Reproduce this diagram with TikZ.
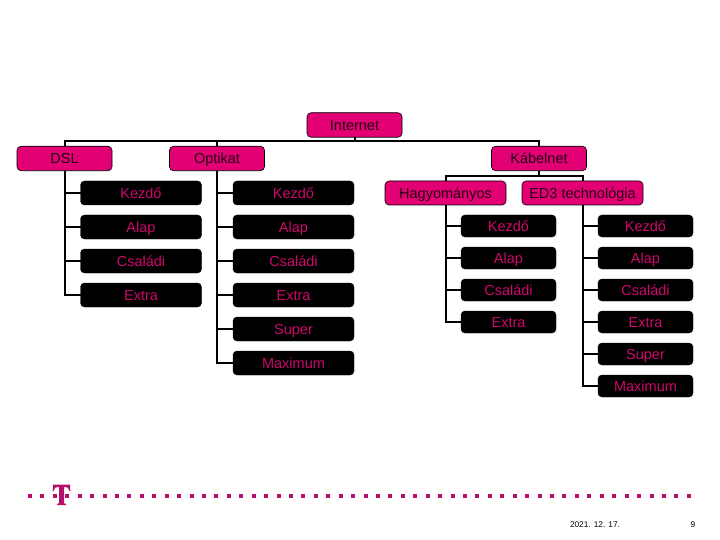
\documentclass[tikz,border=0pt]{standalone}
\usepackage{fontspec}
\setmainfont{Liberation Sans}
\usetikzlibrary{positioning}
\definecolor{tmagenta}{HTML}{E20074}
\definecolor{tfelirat}{HTML}{D0086C}
\definecolor{tsotet}{HTML}{B5106A}

\begin{document}
\begin{tikzpicture}[
  x=1pt, y=1pt,
  node distance=10pt and 10pt,
  fo/.style={draw=black, fill=tmagenta, rounded corners=4pt, line width=0.6pt, text=black!85!tmagenta, inner sep=0pt, outer sep=0pt, minimum width=95pt, minimum height=24.5pt, text height=10.5pt, text depth=0pt, font=\fontsize{14.5}{16}\selectfont},
  alfo/.style={fo, minimum width=121pt, minimum height=24pt},
  csomag/.style={draw=black, fill=black, rounded corners=4pt, text=tfelirat, inner sep=0pt, outer sep=0pt, minimum width=121pt, minimum height=24pt, text height=10.5pt, text depth=0pt, font=\fontsize{14.5}{16}\selectfont},
  kiscsomag/.style={csomag, minimum width=95pt, minimum height=22pt},
  vonal/.style={draw=black, line width=2pt}
]
\useasboundingbox (0,0) rectangle (720,-540);

% felso szint
\node[fo] (internet) at (354.5,-125) {Internet};
\node[fo] (dsl) at (64.5,-158.5) {DSL};
\node[fo] (optikat) at (217,-158.5) {Optikat};
\node[fo] (kabel) at (539,-158.5) {Kábelnet};
\node[alfo] (hagy) at (445.5,-193) {Hagyományos};
\node[alfo] (ed3) at (582.5,-193) {ED3 technológia};

% DSL
\node[csomag] (d1) at (141,-193) {Kezdő};
\node[csomag, below=of d1] (d2) {Alap};
\node[csomag, below=of d2] (d3) {Családi};
\node[csomag, below=of d3] (d4) {Extra};

% Optikat
\node[csomag] (o1) at (293.5,-193) {Kezdő};
\node[csomag, below=of o1] (o2) {Alap};
\node[csomag, below=of o2] (o3) {Családi};
\node[csomag, below=of o3] (o4) {Extra};
\node[csomag, below=of o4] (o5) {Super};
\node[csomag, below=of o5] (o6) {Maximum};

% Hagyomanyos
\node[kiscsomag] (h1) at (508.5,-226) {Kezdő};
\node[kiscsomag, below=of h1] (h2) {Alap};
\node[kiscsomag, below=of h2] (h3) {Családi};
\node[kiscsomag, below=of h3] (h4) {Extra};

% ED3
\node[kiscsomag] (e1) at (645.5,-226) {Kezdő};
\node[kiscsomag, below=of e1] (e2) {Alap};
\node[kiscsomag, below=of e2] (e3) {Családi};
\node[kiscsomag, below=of e3] (e4) {Extra};
\node[kiscsomag, below=of e4] (e5) {Super};
\node[kiscsomag, below=of e5] (e6) {Maximum};

% vonalak
\draw[vonal] (internet.south) -- ++(0,-4) -| (dsl.north);
\draw[vonal] (internet.south) -- ++(0,-4) -| (optikat.north);
\draw[vonal] (internet.south) -- ++(0,-4) -| (kabel.north);
\draw[vonal] (kabel.south) -- ++(0,-5) -| (hagy.north);
\draw[vonal] (kabel.south) -- ++(0,-5) -| (ed3.north);
\draw[vonal] (dsl.south) |- (d1.west);
\draw[vonal] (dsl.south) |- (d2.west);
\draw[vonal] (dsl.south) |- (d3.west);
\draw[vonal] (dsl.south) |- (d4.west);
\draw[vonal] (optikat.south) |- (o1.west);
\draw[vonal] (optikat.south) |- (o2.west);
\draw[vonal] (optikat.south) |- (o3.west);
\draw[vonal] (optikat.south) |- (o4.west);
\draw[vonal] (optikat.south) |- (o5.west);
\draw[vonal] (optikat.south) |- (o6.west);
\draw[vonal] (hagy.south) |- (h1.west);
\draw[vonal] (hagy.south) |- (h2.west);
\draw[vonal] (hagy.south) |- (h3.west);
\draw[vonal] (hagy.south) |- (h4.west);
\draw[vonal] (ed3.south) |- (e1.west);
\draw[vonal] (ed3.south) |- (e2.west);
\draw[vonal] (ed3.south) |- (e3.west);
\draw[vonal] (ed3.south) |- (e4.west);
\draw[vonal] (ed3.south) |- (e5.west);
\draw[vonal] (ed3.south) |- (e6.west);

% lablec
\draw[tsotet, line width=4pt, dash pattern=on 4pt off 8.43pt] (28,-495.7) -- (691,-495.7);
\fill[tsotet] (53,-484.5) -- (70,-484.5) -- (70.3,-491) -- (69.5,-491) .. controls (69,-488) and (67.5,-487) .. (64,-487) -- (64,-502.5) .. controls (64,-503.5) and (64.5,-504) .. (66,-504) -- (66,-505) -- (57,-505) -- (57,-504) .. controls (58.5,-504) and (59,-503.5) .. (59,-502.5) -- (59,-487) .. controls (55.5,-487) and (54,-488) .. (53.5,-491) -- (52.7,-491) -- cycle;
\node[font=\fontsize{8.3}{10}\selectfont] (datum) at (595,-525) {2021. 12. 17.};
\node[font=\fontsize{8.3}{10}\selectfont] (oldal) at (693,-525) {9};
\end{tikzpicture}
\end{document}
